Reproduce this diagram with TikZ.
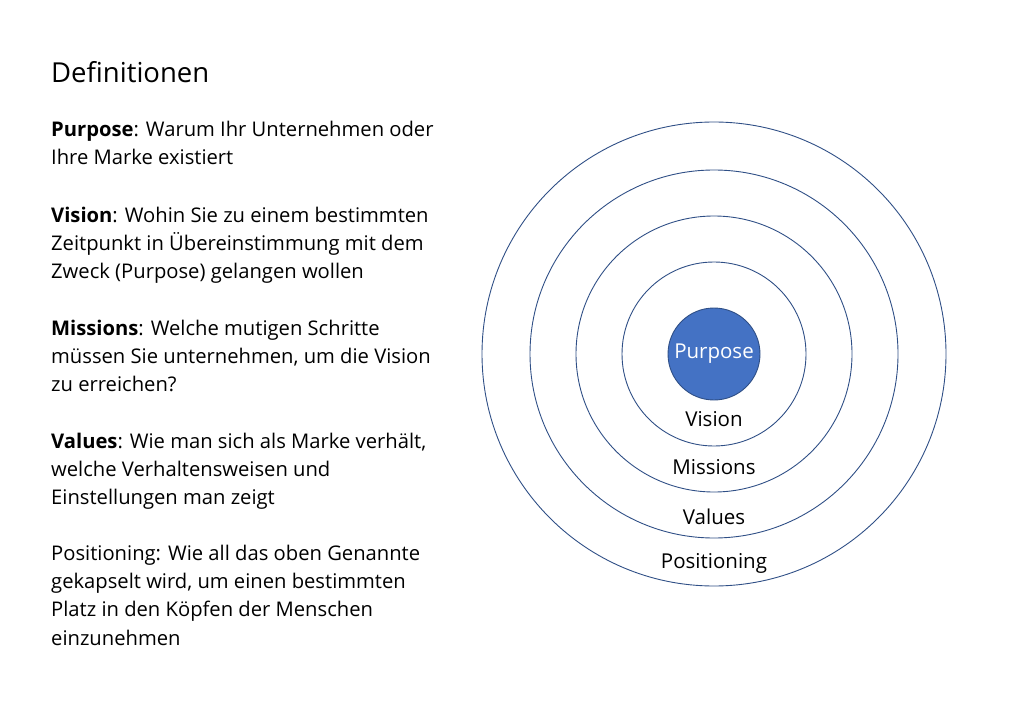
\documentclass[tikz,border=0pt]{standalone}
\usepackage{fontspec}
\setmainfont{Open Sans}
\begin{document}
\begin{tikzpicture}[x=1pt,y=-1pt,
  ring/.style={draw=ringblue,line width=0.9pt},
  para/.style={anchor=north west,align=left,font=\fontsize{20.2}{28.2}\selectfont,inner sep=0pt},
  lbl/.style={font=\fontsize{20.5}{24}\selectfont,inner sep=0pt}]
\definecolor{ringblue}{HTML}{2F4F86}
\definecolor{fillblue}{HTML}{4472C4}
\useasboundingbox (0,0) rectangle (1024,708);
\node[anchor=west,inner sep=0pt,font=\fontsize{27.5}{32}\selectfont] (title) at (51,72) {Definitionen};
\node[para] (p1) at (51,121) {\textbf{Purpose}: Warum Ihr Unternehmen oder\\Ihre Marke existiert};
\node[para] (p2) at (51,207) {\textbf{Vision}: Wohin Sie zu einem bestimmten\\Zeitpunkt in Übereinstimmung mit dem\\Zweck (Purpose) gelangen wollen};
\node[para] (p3) at (51,320) {\textbf{Missions}: Welche mutigen Schritte\\müssen Sie unternehmen, um die Vision\\zu erreichen?};
\node[para] (p4) at (51,433) {\textbf{Values}: Wie man sich als Marke verhält,\\welche Verhaltensweisen und\\Einstellungen man zeigt};
\node[para] (p5) at (51,545) {Positioning: Wie all das oben Genannte\\gekapselt wird, um einen bestimmten\\Platz in den Köpfen der Menschen\\einzunehmen};
\coordinate (c) at (714,354);
\draw[ring] (c) circle (232);
\draw[ring] (c) circle (184);
\draw[ring] (c) circle (138);
\draw[ring] (c) circle (92);
\node[circle,fill=fillblue,draw=ringblue,line width=0.9pt,minimum size=92pt,inner sep=0pt,text=white,font=\fontsize{20.5}{24}\selectfont] (purpose) at (c) {Purpose};
\node[lbl] (vision) at (714,419) {Vision};
\node[lbl] (missions) at (714,467) {Missions};
\node[lbl] (values) at (714,517) {Values};
\node[lbl] (positioning) at (714,563) {Positioning};
\end{tikzpicture}
\end{document}
